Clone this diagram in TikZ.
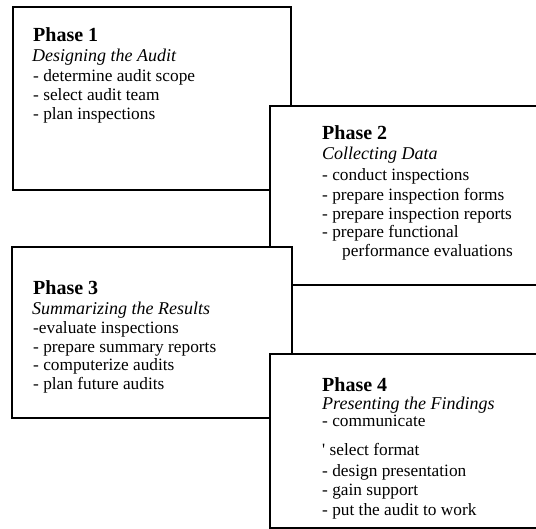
\documentclass[tikz,border=0pt]{standalone}
\usepackage{fontspec}
\setmainfont{Liberation Serif}
\begin{document}
\begin{tikzpicture}[x=1pt,y=-1pt,
  phasebox/.style={draw=black,fill=white,line width=1.5pt,anchor=north west,
    inner sep=0pt,outer sep=0pt},
  phasetitle/.style={anchor=base west,inner sep=0pt,font=\fontsize{20}{22}\selectfont\bfseries},
  phasesub/.style={anchor=base west,inner sep=0pt,font=\fontsize{18}{20}\selectfont\itshape},
  phaseitem/.style={anchor=base west,inner sep=0pt,font=\fontsize{17.3}{19}\selectfont}]
\useasboundingbox (0,0) rectangle (536,529);
\clip (0,0) rectangle (536,529);

% Phase 1
\node[phasebox,minimum width=278pt,minimum height=183pt] (b1) at (13,7) {};
\node[phasetitle] (t1) at (33,42) {Phase 1};
\node[phasesub] (s1) at (32,62) {Designing the Audit};
\foreach \y/\t [count=\i] in {82/- determine audit scope,101/- select audit team,120/- plan inspections}
  \node[phaseitem] (i1-\i) at (33,\y) {\t};

% Phase 2
\node[phasebox,minimum width=280pt,minimum height=179pt] (b2) at (270,106) {};
\node[phasetitle] (t2) at (322,140) {Phase 2};
\node[phasesub] (s2) at (322,160) {Collecting Data};
\foreach \y/\t [count=\i] in {181/- conduct inspections,201/- prepare inspection forms,220/- prepare inspection reports,238/- prepare functional}
  \node[phaseitem] (i2-\i) at (322,\y) {\t};
\node[phaseitem] (i2-5) at (342,257) {performance evaluations};

% Phase 3
\node[phasebox,minimum width=280pt,minimum height=171pt] (b3) at (12,247) {};
\node[phasetitle] (t3) at (33,295) {Phase 3};
\node[phasesub] (s3) at (32,315) {Summarizing the Results};
\foreach \y/\t [count=\i] in {334/-evaluate inspections,353/- prepare summary reports,371/- computerize audits,390/- plan future audits}
  \node[phaseitem] (i3-\i) at (33,\y) {\t};

% Phase 4
\node[phasebox,minimum width=280pt,minimum height=174pt] (b4) at (270,354) {};
\node[phasetitle] (t4) at (322,392) {Phase 4};
\node[phasesub] (s4) at (322,410) {Presenting the Findings};
\foreach \y/\t [count=\i] in {427/- communicate,456/\textquotesingle\ select format,476/- design presentation,496/- gain support,515/- put the audit to work}
  \node[phaseitem] (i4-\i) at (322,\y) {\t};
\end{tikzpicture}
\end{document}
